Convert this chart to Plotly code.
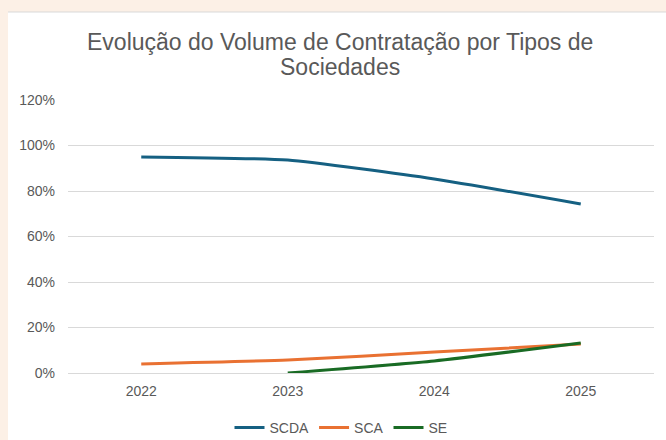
import plotly.graph_objects as go

years = ["2022", "2023", "2024", "2025"]
scda = [95.0, 93.6, 85.3, 74.3]
sca = [4.0, 5.7, 9.2, 12.7]
se = [None, 0.0, 5.3, 13.2]

series_names = ["SCDA", "SCA", "SE"]
colors = ["#156082", "#E97132", "#196B24"]
title_lines = ["Evolução do Volume de Contratação por Tipos de", "Sociedades"]

W, H = 666, 440
L, R, T, B = 68, 12, 100, 67
pw, ph = W - L - R, H - T - B

def px_x(x):
    return (x - L) / pw

def px_y(y):
    return (H - B - y) / ph

fig = go.Figure()
for name, vals, c in zip(series_names, [scda, sca, se], colors):
    fig.add_trace(go.Scatter(
        x=years, y=vals, name=name, mode="lines",
        line=dict(color=c, width=3, shape="spline", smoothing=0.5),
        connectgaps=False,
    ))

title_font = dict(family="Liberation Sans, Arial, sans-serif", size=23, color="#595959")

fig.update_layout(
    width=W, height=H,
    margin=dict(l=L, r=R, t=T, b=B),
    paper_bgcolor="#FCF0E6",
    plot_bgcolor="white",
    font=dict(family="Liberation Sans, Arial, sans-serif", color="#595959", size=14),
    showlegend=True,
    legend=dict(orientation="h", xref="container", yref="container",
                x=341 / W, y=1 - 428 / H, xanchor="center", yanchor="middle",
                font=dict(size=14, color="#595959"), bgcolor="rgba(0,0,0,0)"),
    shapes=[
        dict(type="rect", xref="paper", yref="paper", layer="below",
             x0=px_x(8), x1=px_x(667), y0=px_y(441), y1=px_y(12),
             fillcolor="white", line=dict(width=0)),
        dict(type="line", xref="paper", yref="paper", layer="below",
             x0=px_x(8), x1=px_x(667), y0=px_y(12), y1=px_y(12),
             line=dict(color="#D9D9D9", width=1)),
    ],
    annotations=[
        dict(text=title_lines[0], xref="paper", yref="paper", x=px_x(340), y=px_y(41.5),
             xanchor="center", yanchor="middle", showarrow=False, font=title_font),
        dict(text=title_lines[1], xref="paper", yref="paper", x=px_x(340), y=px_y(66.5),
             xanchor="center", yanchor="middle", showarrow=False, font=title_font),
    ],
)
fig.update_xaxes(type="category", range=[-0.5, 3.5], showgrid=False, showline=False,
                 ticks="", tickfont=dict(size=14, color="#595959"), ticklabelstandoff=8)
fig.update_yaxes(range=[0, 120], dtick=20, ticksuffix="%", showgrid=True, gridcolor="#D9D9D9",
                 gridwidth=1, zeroline=True, zerolinecolor="#D9D9D9", zerolinewidth=1,
                 showline=False, ticks="", tickfont=dict(size=14, color="#595959"),
                 ticklabelstandoff=12)

fig.write_html("out.html", config={"displayModeBar": False},
               post_script="document.body.style.margin='0';document.body.style.overflow='hidden';")
